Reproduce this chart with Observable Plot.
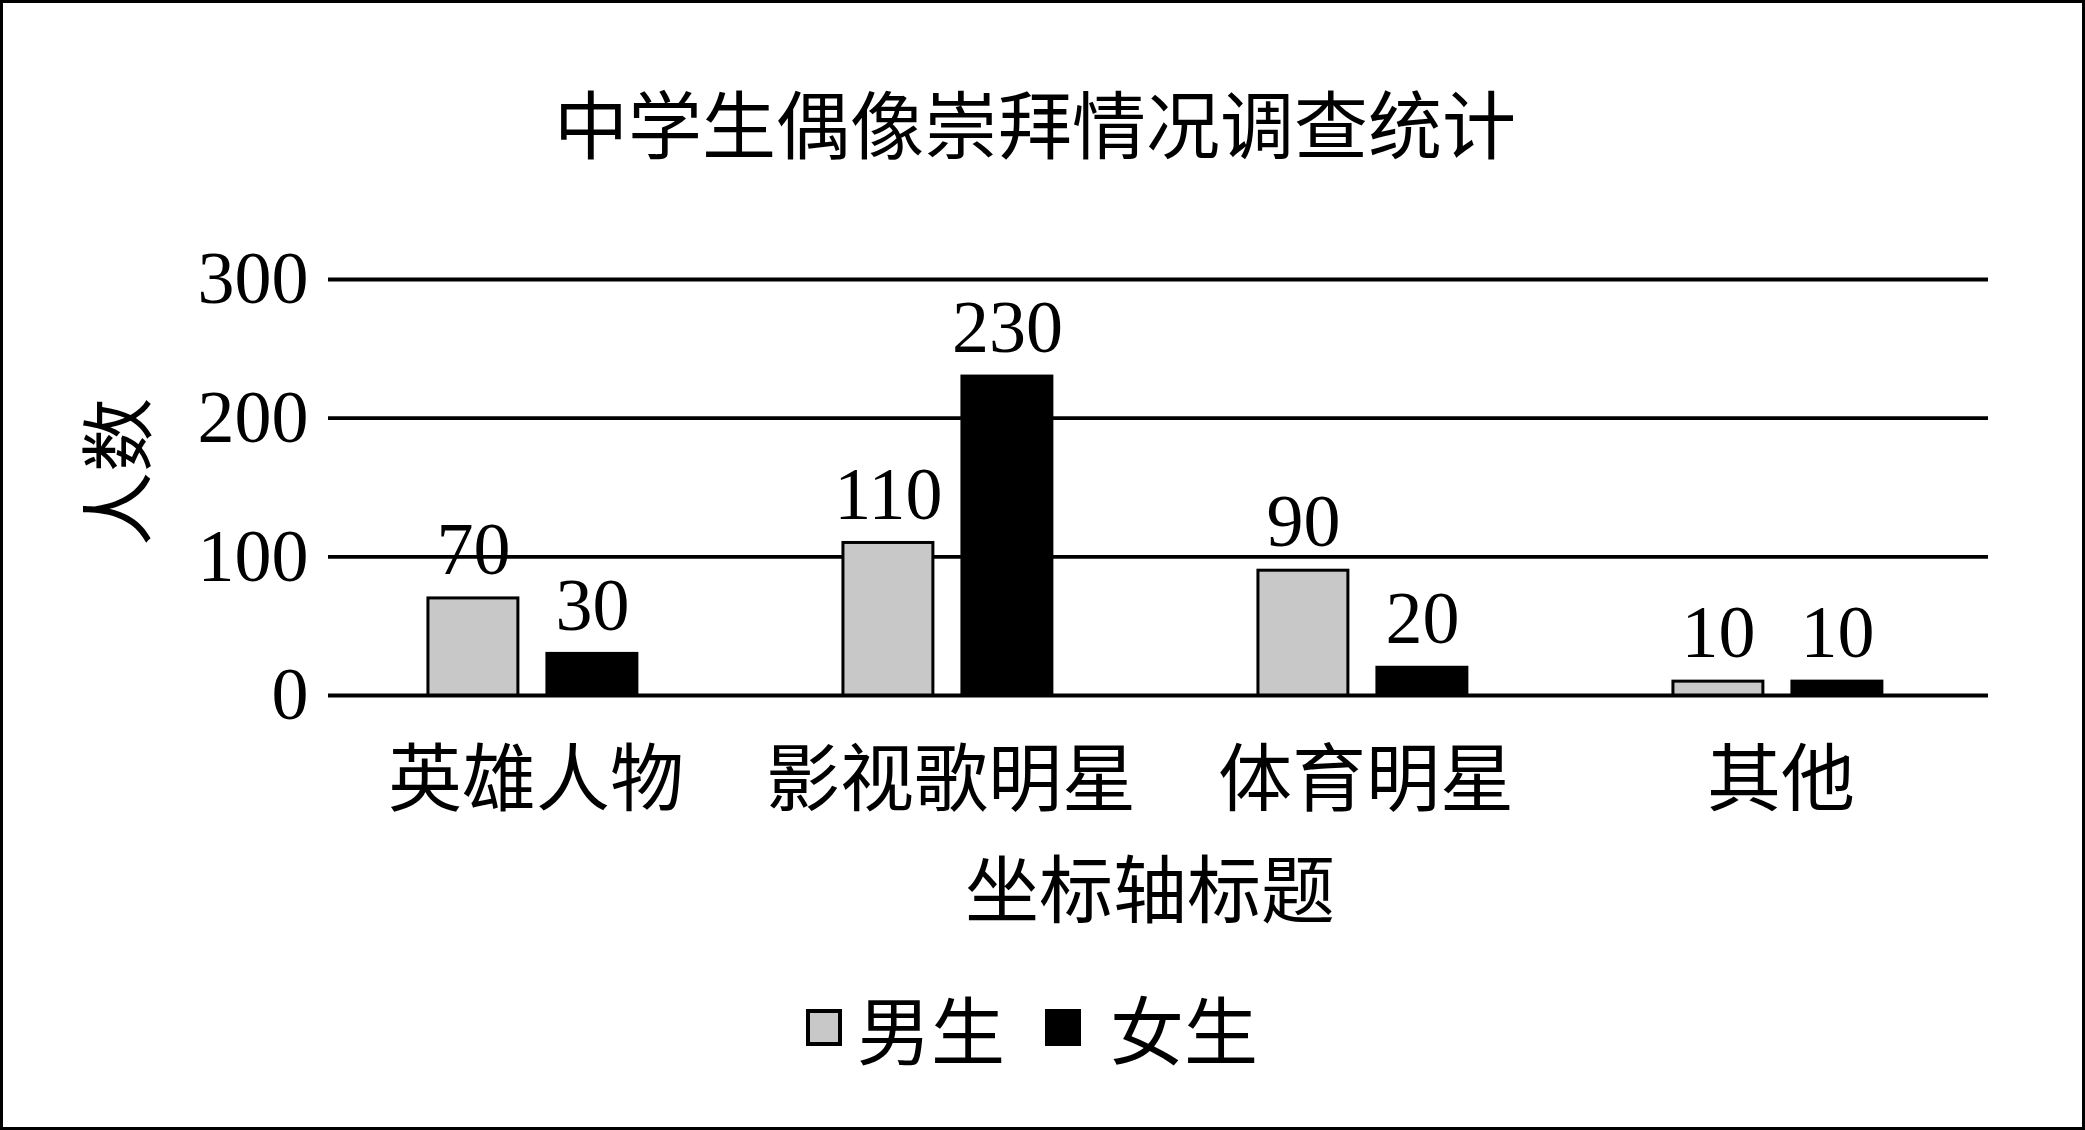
<!DOCTYPE html>
<html>
<head>
<meta charset="utf-8">
<script src="https://cdn.jsdelivr.net/npm/d3@7"></script>
<script src="https://cdn.jsdelivr.net/npm/@observablehq/plot@0.6"></script>
<style>
  html, body { margin: 0; padding: 0; background: #fff; overflow: hidden; }
  #wrap { position: relative; width: 2085px; height: 1130px; background: #fff; }
  #frame { position: absolute; left: 0; top: 0; width: 2085px; height: 1130px; box-sizing: border-box; border: 3px solid #000; pointer-events: none; }
  .cjk { font-family: "Noto Sans CJK SC", sans-serif; font-size: 74px; line-height: 74px; color: #000; white-space: nowrap; position: absolute; }
  #chart { position: absolute; left: 0; top: 0; }
  #legend { position: absolute; left: 806px; top: 990px; display: flex; align-items: center; height: 74px; }
  .sw { width: 36px; height: 37px; box-sizing: border-box; border: 4px solid #000; }
</style>
</head>
<body>
<div id="wrap">
  <div id="chart"></div>
  <div id="title" class="cjk"></div>
  <div id="xtitle" class="cjk"></div>
  <div id="ytitle" class="cjk"></div>
  <div id="legend"></div>
  <div id="frame"></div>
</div>
<script>
const chartTitle = "中学生偶像崇拜情况调查统计";
const xAxisTitle = "坐标轴标题";
const yAxisTitle = "人数";
const categories = ["英雄人物", "影视歌明星", "体育明星", "其他"];
const series = ["男生", "女生"];
const maleValues = [70, 110, 90, 10];
const femaleValues = [30, 230, 20, 10];
const yTicks = [0, 100, 200, 300];

const data = categories.flatMap((c, i) => [
  {category: c, gender: series[0], value: maleValues[i]},
  {category: c, gender: series[1], value: femaleValues[i]}
]);

const colorRange = ["#c8c8c8", "#000000"];

const plot = Plot.plot({
  width: 2085,
  height: 830,
  marginLeft: 328,
  marginRight: 97,
  marginTop: 279,
  marginBottom: 135,
  style: {background: "transparent", color: "#000", fontFamily: "'Liberation Serif', 'Noto Sans CJK SC', serif"},
  fx: {domain: categories, padding: 0, round: false, label: null},
  x: {domain: series, paddingInner: 0.244, paddingOuter: 0.866, align: 0.485, round: false, axis: null},
  y: {domain: [0, 300], label: null},
  color: {domain: series, range: colorRange},
  marks: [
    Plot.gridY(yTicks, {stroke: "#000", strokeOpacity: 1, strokeWidth: 3.8}),
    Plot.barY(data, {fx: "category", x: "gender", y: "value", fill: "gender", stroke: "#000", strokeWidth: 3}),
    Plot.text(data, {fx: "category", x: "gender", y: "value", text: d => String(d.value), dy: -48, fontSize: 74, fontFamily: "Liberation Serif", fill: "#000"}),
    Plot.axisY(yTicks, {tickSize: 0, tickPadding: 20, fontSize: 74, fontFamily: "Liberation Serif", label: null, fill: "#000"}),
    Plot.axisFx({anchor: "bottom", tickSize: 0, tickPadding: 57, fontSize: 74, fontFamily: "Noto Sans CJK SC", label: null, fill: "#000"})
  ]
});
document.getElementById("chart").appendChild(plot);

const t = document.getElementById("title");
t.textContent = chartTitle;
t.style.left = "1035px"; t.style.top = "84px"; t.style.transform = "translateX(-50%)";

const xt = document.getElementById("xtitle");
xt.textContent = xAxisTitle;
xt.style.left = "1150px"; xt.style.top = "848px"; xt.style.transform = "translateX(-50%)";

const yt = document.getElementById("ytitle");
yt.textContent = yAxisTitle;
yt.style.left = "113px"; yt.style.top = "472px";
yt.style.transform = "translate(-50%, -50%) rotate(-90deg)";

const legend = document.getElementById("legend");
series.forEach((s, i) => {
  const sw = document.createElement("div");
  sw.className = "sw";
  sw.style.background = colorRange[i];
  sw.style.marginLeft = i === 0 ? "0px" : "40px";
  const lab = document.createElement("div");
  lab.textContent = s;
  lab.style.cssText = "font-family:'Noto Sans CJK SC',sans-serif;font-size:74px;line-height:74px;color:#000;white-space:nowrap;";
  lab.style.marginLeft = i === 0 ? "15px" : "29px";
  legend.appendChild(sw);
  legend.appendChild(lab);
});
</script>
</body>
</html>
